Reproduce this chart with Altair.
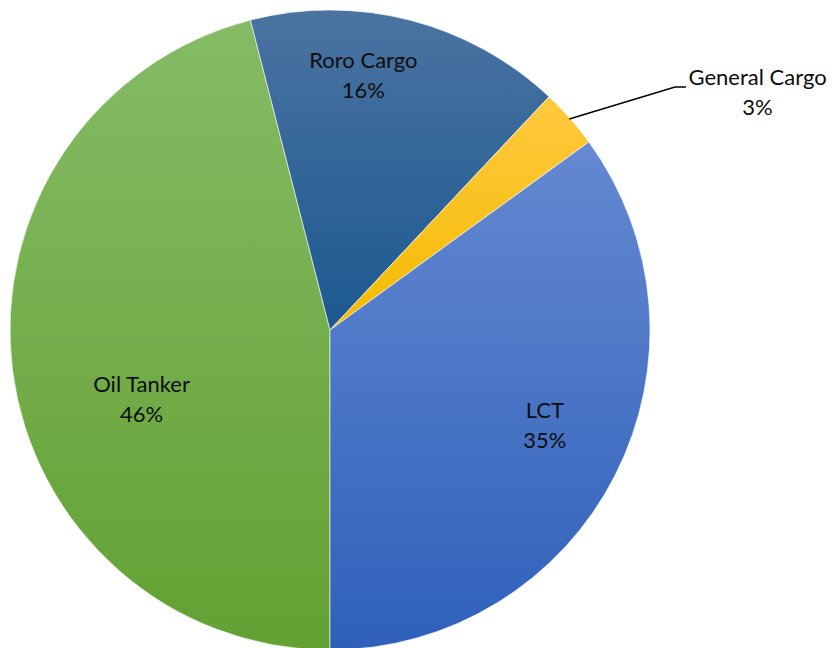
import math
import altair as alt
import pandas as pd

# ---- data ----
categories = ["Oil Tanker", "Roro Cargo", "General Cargo", "LCT"]
values = [46, 16, 3, 35]

# ---- styling (not data) ----
gradients = {
    "Oil Tanker": ("#86bb66", "#62a132"),
    "Roro Cargo": ("#4a73a1", "#1c5990"),
    "General Cargo": ("#ffc93f", "#f4bb00"),
    "LCT": ("#6589d1", "#2e60ba"),
}
# label placement: (radius, dx, dy)
label_pos = {
    "Oil Tanker": (200, 10, 30),
    "Roro Cargo": (255, -30, -22),
    "General Cargo": (450, 90, 46),
    "LCT": (240, 1, -28),
}

W, H = 644, 640
R = 320
total = sum(values)
theta_scale = alt.Scale(domain=[0, total], range=[math.pi, 3 * math.pi])

df = pd.DataFrame({
    "category": categories,
    "value": values,
    "order": list(range(len(categories))),
})
df["label"] = [f"{c}\n{v}%" for c, v in zip(categories, values)]

base = alt.Chart(df).transform_window(
    end="sum(value)", sort=[alt.SortField("order")], frame=[None, 0]
).transform_calculate(
    start="datum.end - datum.value",
    mid="datum.end - datum.value / 2",
)

layers = []
for cat in categories:
    top, bottom = gradients[cat]
    grad = alt.Gradient(
        gradient="linear",
        stops=[alt.GradientStop(color=top, offset=0), alt.GradientStop(color=bottom, offset=1)],
        x1=0, x2=0, y1=0, y2=1,
    )
    layers.append(
        base.transform_filter(alt.datum.category == cat)
        .mark_arc(radius=R, fill=grad, stroke="#ffffff", strokeWidth=0.6)
        .encode(
            theta=alt.Theta("start:Q", scale=theta_scale),
            theta2="end:Q",
        )
    )

for cat in categories:
    r, dx, dy = label_pos[cat]
    layers.append(
        base.transform_filter(alt.datum.category == cat)
        .mark_text(
            font="Lato", fontSize=22, color="#0d0d0d", lineBreak="\n",
            lineHeight=30, align="center", baseline="middle", dx=dx, dy=dy,
        )
        .encode(
            theta=alt.Theta("mid:Q", scale=theta_scale, stack=None),
            radius=alt.value(r),
            text="label:N",
        )
    )

# leader line for the small slice, starting at the pie edge at the slice's mid-angle
cum = 0
gen_mid = None
for c, v in zip(categories, values):
    if c == "General Cargo":
        gen_mid = cum + v / 2
    cum += v
ang = math.pi + gen_mid / total * 2 * math.pi
sx = W / 2 + (R - 1) * math.sin(ang)
sy = H / 2 - (R - 1) * math.cos(ang)
leader = pd.DataFrame({"x": [sx, 667, 678], "y": [sy, 77, 77], "k": [0, 1, 2]})
layers.append(
    alt.Chart(leader).mark_line(color="#000000", strokeWidth=1.5).encode(
        x=alt.X("x:Q", scale=None), y=alt.Y("y:Q", scale=None), order="k:O"
    )
)

chart = alt.layer(*layers).properties(
    width=W, height=H, padding=0
).configure_view(stroke=None)

chart.save("out.html", embed_options={"renderer": "svg", "actions": False})
